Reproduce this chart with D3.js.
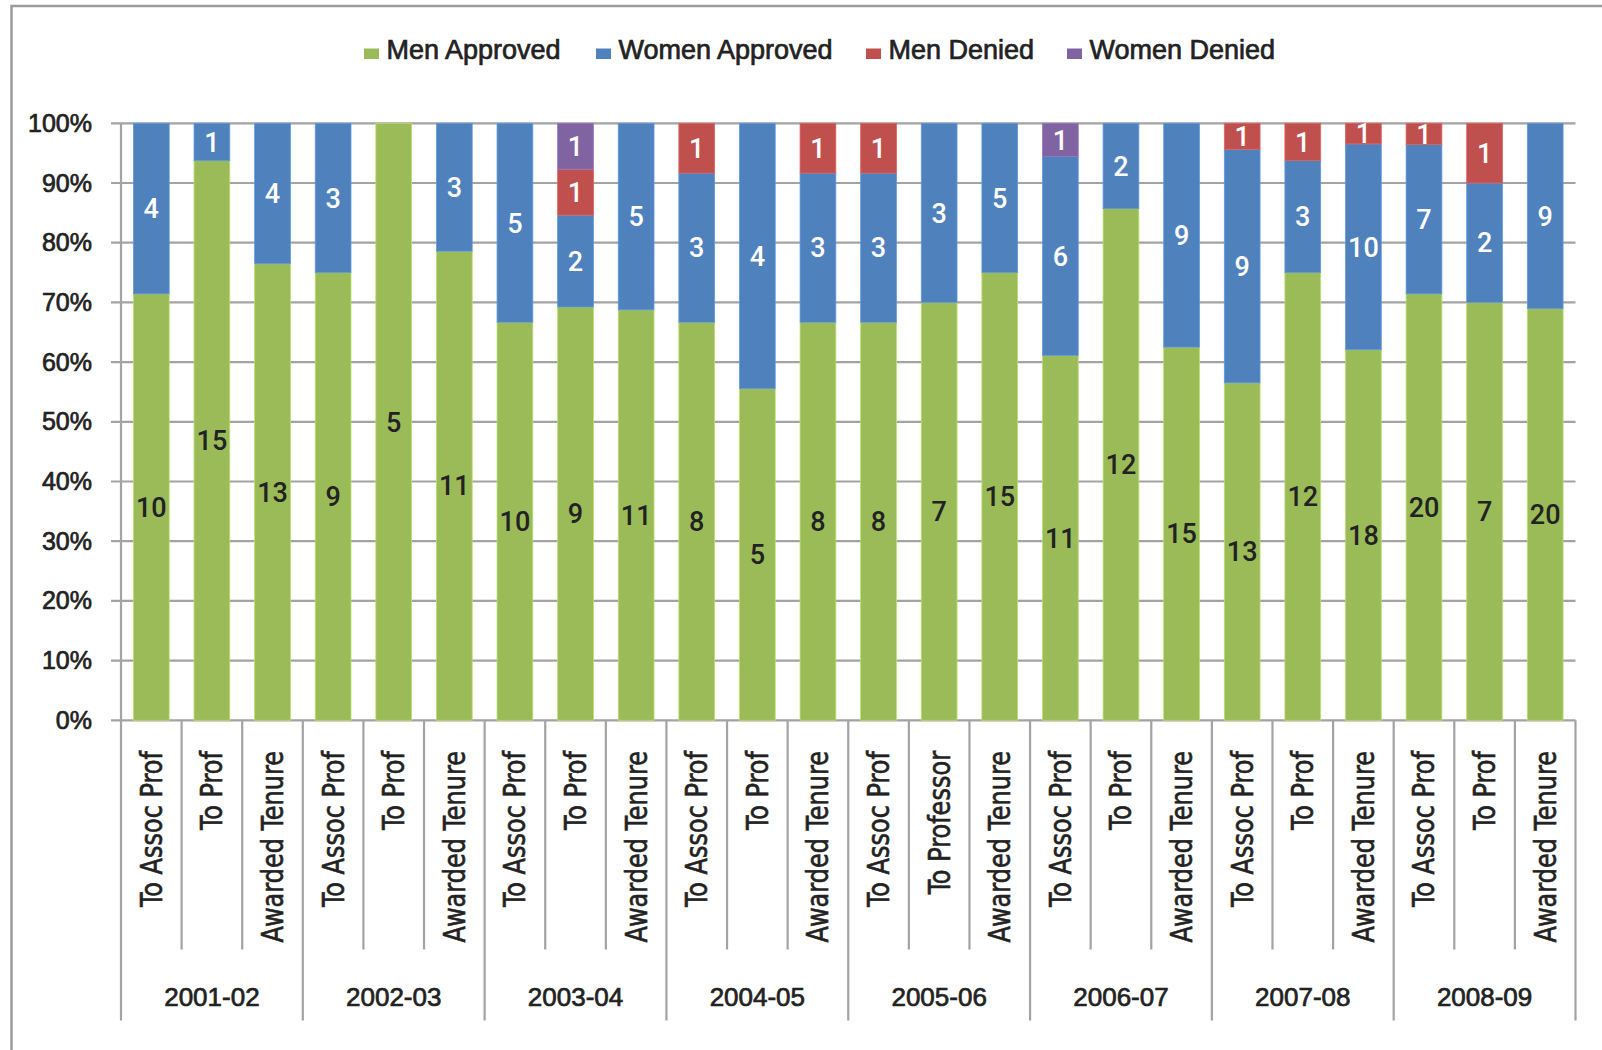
<!DOCTYPE html>
<html>
<head>
<meta charset="utf-8">
<script src="https://cdn.jsdelivr.net/npm/d3@7"></script>
<style>
  html, body { margin: 0; padding: 0; background: #fff; }
  svg { display: block; }
</style>
</head>
<body>
<svg id="chart" width="1602" height="1050"></svg>
<script>
// Promotion and tenure decisions by academic year
const years = ["2001-02", "2002-03", "2003-04", "2004-05", "2005-06", "2006-07", "2007-08", "2008-09"];
const categories = [
  "To Assoc Prof", "To Prof", "Awarded Tenure",
  "To Assoc Prof", "To Prof", "Awarded Tenure",
  "To Assoc Prof", "To Prof", "Awarded Tenure",
  "To Assoc Prof", "To Prof", "Awarded Tenure",
  "To Assoc Prof", "To Professor", "Awarded Tenure",
  "To Assoc Prof", "To Prof", "Awarded Tenure",
  "To Assoc Prof", "To Prof", "Awarded Tenure",
  "To Assoc Prof", "To Prof", "Awarded Tenure"
];
const seriesNames = ["Men Approved", "Women Approved", "Men Denied", "Women Denied"];
const menApproved   = [10, 15, 13, 9, 5, 11, 10, 9, 11, 8, 5, 8, 8, 7, 15, 11, 12, 15, 13, 12, 18, 20, 7, 20];
const womenApproved = [4, 1, 4, 3, 0, 3, 5, 2, 5, 3, 4, 3, 3, 3, 5, 6, 2, 9, 9, 3, 10, 7, 2, 9];
const menDenied     = [0, 0, 0, 0, 0, 0, 0, 1, 0, 1, 0, 1, 1, 0, 0, 0, 0, 0, 1, 1, 1, 1, 1, 0];
const womenDenied   = [0, 0, 0, 0, 0, 0, 0, 1, 0, 0, 0, 0, 0, 0, 0, 1, 0, 0, 0, 0, 0, 0, 0, 0];
const seriesColors  = ["#9BBB59", "#4F81BD", "#C0504D", "#8064A2"];
const yTicks = [0, 0.1, 0.2, 0.3, 0.4, 0.5, 0.6, 0.7, 0.8, 0.9, 1.0];

const seriesValues = [menApproved, womenApproved, menDenied, womenDenied];
const rows = categories.map((c, i) => {
  const r = { idx: i };
  seriesNames.forEach((s, k) => { r[s] = seriesValues[k][i]; });
  return r;
});

const svg = d3.select("#chart");
const gridColor = "#a3a3a3";
const textColor = "#222";

// slightly heavier text than the plain regular face
function heavy(sel, w) {
  sel.attr("stroke", textColor).attr("stroke-width", w).attr("paint-order", "stroke");
}

// outer frame (runs off the right and bottom edges)
svg.append("rect")
  .attr("x", 11.5).attr("y", 6)
  .attr("width", 1700).attr("height", 1200)
  .attr("fill", "none").attr("stroke", "#9c9c9c").attr("stroke-width", 2.5);

const x0 = 121, x1 = 1575.5, yBottom = 720.3, yTop = 123.3;

const x = d3.scaleBand()
  .domain(d3.range(categories.length))
  .range([x0, x1])
  .paddingInner(0.41)
  .paddingOuter(0.205);

const y = d3.scaleLinear().domain([0, 1]).range([yBottom, yTop]);

// horizontal gridlines with short tick stubs to the left of the axis
svg.append("g").selectAll("line")
  .data(yTicks)
  .join("line")
  .attr("x1", x0 - 10).attr("x2", x1)
  .attr("y1", d => y(d)).attr("y2", d => y(d))
  .attr("stroke", gridColor).attr("stroke-width", 2.2);

// stacked, normalised to 100%
const stacked = d3.stack().keys(seriesNames).offset(d3.stackOffsetExpand)(rows);

const layers = svg.append("g").selectAll("g")
  .data(stacked)
  .join("g")
  .attr("fill", (d, i) => seriesColors[i]);

layers.selectAll("rect")
  .data(d => d.filter(p => p.data[d.key] > 0).map(p => Object.assign(p, { key: d.key })))
  .join("rect")
  .attr("x", d => x(d.data.idx))
  .attr("width", x.bandwidth())
  .attr("y", d => y(d[1]))
  .attr("height", d => y(d[0]) - y(d[1]))
  .attr("stroke", d => d3.color(seriesColors[seriesNames.indexOf(d.key)]).brighter(0.5))
  .attr("stroke-width", 0.8);

// value labels centred in each segment
layers.selectAll("text")
  .data(d => d.filter(p => p.data[d.key] > 0))
  .join("text")
  .attr("x", d => x(d.data.idx) + x.bandwidth() / 2)
  .attr("y", d => y((d[0] + d[1]) / 2))
  .attr("dy", "0.36em")
  .attr("text-anchor", "middle")
  .attr("font-family", "Roboto, 'Liberation Sans', sans-serif")
  .attr("font-weight", 500)
  .attr("font-size", 27)
  .attr("fill", d => d.key === "Men Approved" ? textColor : "#fff")
  .text(d => d.data[d.key]);

// y axis labels
const yAxis = d3.axisLeft(y)
  .tickValues(yTicks)
  .tickFormat(d3.format(".0%"))
  .tickSize(0)
  .tickPadding(29);
const yAxisG = svg.append("g").attr("transform", `translate(${x0},0)`).call(yAxis);
yAxisG.select(".domain").remove();
yAxisG.selectAll("text")
  .attr("font-family", "'Liberation Sans', Arial, sans-serif")
  .attr("font-size", 25)
  .attr("fill", textColor)
  .call(heavy, 0.7);

// vertical axis line
svg.append("line")
  .attr("x1", x0).attr("x2", x0)
  .attr("y1", yTop).attr("y2", yBottom)
  .attr("stroke", gridColor).attr("stroke-width", 2.2);

// category separators (longer at year boundaries)
const step = x.step();
svg.append("g").selectAll("line")
  .data(d3.range(categories.length + 1))
  .join("line")
  .attr("x1", i => x0 + i * step).attr("x2", i => x0 + i * step)
  .attr("y1", yBottom)
  .attr("y2", i => i % 3 === 0 ? 1020.5 : 949.5)
  .attr("stroke", gridColor).attr("stroke-width", 2.2);

// rotated category labels, set in a narrowed face
const catLabels = svg.append("g").selectAll("text")
  .data(categories)
  .join("text")
  .attr("transform", (d, i) => `translate(${x(i) + x.bandwidth() / 2},751) rotate(-90)`)
  .attr("dy", "0.35em")
  .attr("text-anchor", "end")
  .attr("font-family", "'Liberation Sans Narrow', 'Arial Narrow', 'DejaVu Sans Condensed', sans-serif")
  .attr("font-size", 30)
  .attr("fill", textColor)
  .text(d => d)
  .call(heavy, 0.6);
catLabels.each(function() {
  const len = this.getComputedTextLength();
  d3.select(this).attr("textLength", len * 0.89).attr("lengthAdjust", "spacingAndGlyphs");
});

// year group labels
svg.append("g").selectAll("text")
  .data(years)
  .join("text")
  .attr("x", (d, g) => x0 + (g * 3 + 1.5) * step)
  .attr("y", 1006)
  .attr("text-anchor", "middle")
  .attr("font-family", "'Liberation Sans', Arial, sans-serif")
  .attr("font-size", 26)
  .attr("fill", textColor)
  .text(d => d)
  .call(heavy, 0.7);

// legend
const legendX = [364, 596, 866, 1067];
const legend = svg.append("g").selectAll("g")
  .data(seriesNames)
  .join("g")
  .attr("transform", (d, i) => `translate(${legendX[i]},0)`);
legend.append("rect")
  .attr("x", 0).attr("y", 48.5)
  .attr("width", 15).attr("height", 10.5)
  .attr("fill", (d, i) => seriesColors[i]);
legend.append("text")
  .attr("x", 22.5).attr("y", 59.3)
  .attr("font-family", "'Liberation Sans', Arial, sans-serif")
  .attr("font-size", 27)
  .attr("fill", textColor)
  .text(d => d)
  .call(heavy, 0.7);
</script>
</body>
</html>
